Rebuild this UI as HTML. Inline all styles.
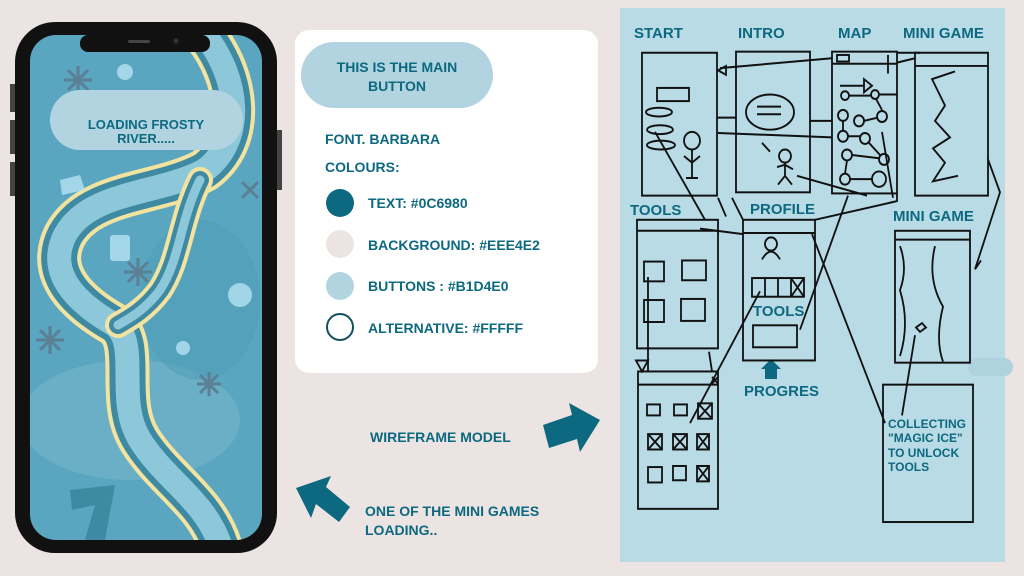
<!DOCTYPE html>
<html><head><meta charset="utf-8"><style>
html,body{margin:0;padding:0;background:#ece4e2;}
svg{display:block}
text{font-family:"Liberation Sans",sans-serif;font-weight:bold;fill:#0c6980}
</style></head><body>
<svg width="1024" height="576" viewBox="0 0 1024 576" xmlns="http://www.w3.org/2000/svg">
<rect width="1024" height="576" fill="#ece4e2"/>
<!-- PHONE -->
<rect x="10" y="84" width="6" height="28" fill="#444"/>
<rect x="10" y="120" width="6" height="34" fill="#444"/>
<rect x="10" y="162" width="6" height="34" fill="#444"/>
<rect x="276" y="130" width="6" height="60" fill="#444"/>
<rect x="15" y="22" width="262" height="531" rx="40" fill="#111"/>
<clipPath id="scr"><rect x="30" y="35" width="232" height="505" rx="26"/></clipPath>
<g clip-path="url(#scr)">
<rect x="30" y="35" width="232" height="505" fill="#5aa6c0"/>
<ellipse cx="130" cy="420" rx="110" ry="60" fill="#7bb8cc" opacity=".5"/>
<ellipse cx="200" cy="300" rx="60" ry="80" fill="#4e9cb8" opacity=".5"/>
<g fill="none" stroke-linecap="round">
<path d="M205 35 C240 80 245 140 205 170 C160 195 90 190 65 235 C45 275 80 305 115 325 C140 345 115 400 140 440 C165 480 205 500 220 545" stroke="#f2e3a0" stroke-width="44"/>
<path d="M205 35 C240 80 245 140 205 170 C160 195 90 190 65 235 C45 275 80 305 115 325 C140 345 115 400 140 440 C165 480 205 500 220 545" stroke="#3f8aa3" stroke-width="36"/>
<path d="M205 35 C240 80 245 140 205 170 C160 195 90 190 65 235 C45 275 80 305 115 325 C140 345 115 400 140 440 C165 480 205 500 220 545" stroke="#8cc8da" stroke-width="24"/>
<path d="M200 180 C180 220 180 260 160 290 C145 310 130 318 118 325" stroke="#f2e3a0" stroke-width="26"/>
<path d="M200 180 C180 220 180 260 160 290 C145 310 130 318 118 325" stroke="#3f8aa3" stroke-width="18"/>
<path d="M200 180 C180 220 180 260 160 290 C145 310 130 318 118 325" stroke="#8cc8da" stroke-width="9"/>
</g>
<path d="M70 490 L115 485 L105 540 L85 540 L95 505 L72 510Z" fill="#3f8aa3"/>
<g fill="#b6e2f2" opacity=".8">
<circle cx="125" cy="72" r="8"/><circle cx="240" cy="295" r="12"/><circle cx="183" cy="348" r="7"/>
<rect x="110" y="235" width="20" height="26" rx="3"/><path d="M60 180 L80 175 L85 190 L62 195Z"/>
</g>
<g stroke="#5b7f93" stroke-width="3" fill="none">
<path d="M68 70 l20 20 M88 70 l-20 20 M78 66 v28 M64 80 h28"/>
<path d="M128 262 l20 20 M148 262 l-20 20 M138 258 v28 M124 272 h28"/>
<path d="M40 330 l20 20 M60 330 l-20 20 M50 326 v28 M36 340 h28"/>
<path d="M200 375 l18 18 M218 375 l-18 18 M209 372 v24 M197 384 h24"/>
<path d="M242 182 l16 16 M258 182 l-16 16"/>
</g>
</g>
<rect x="80" y="35" width="130" height="17" rx="8" fill="#111"/>
<rect x="128" y="40" width="22" height="3" rx="1.5" fill="#444"/>
<circle cx="176" cy="41" r="2.5" fill="#333"/>
<rect x="50" y="90" width="193" height="60" rx="30" fill="#b1d4e0"/>
<text x="146" y="129" font-size="13" text-anchor="middle">LOADING FROSTY</text>
<text x="146" y="144" font-size="13" text-anchor="middle" dy="-1">RIVER.....</text>

<!-- CARD -->
<rect x="295" y="30" width="303" height="343" rx="14" fill="#fff"/>
<rect x="301" y="42" width="192" height="66" rx="33" fill="#b1d4e0"/>
<text x="397" y="72" font-size="14" text-anchor="middle">THIS IS THE MAIN</text>
<text x="397" y="91" font-size="14" text-anchor="middle">BUTTON</text>
<text x="325" y="144" font-size="14">FONT. BARBARA</text>
<text x="325" y="172" font-size="14">COLOURS:</text>
<circle cx="340" cy="203" r="14" fill="#0c6980"/>
<circle cx="340" cy="244" r="14" fill="#ece4e2"/>
<circle cx="340" cy="286" r="14" fill="#b1d4e0"/>
<circle cx="340" cy="327" r="13" fill="#fff" stroke="#12505f" stroke-width="2"/>
<text x="368" y="208" font-size="14">TEXT: #0C6980</text>
<text x="368" y="250" font-size="14">BACKGROUND: #EEE4E2</text>
<text x="368" y="291" font-size="14">BUTTONS : #B1D4E0</text>
<text x="368" y="333" font-size="14">ALTERNATIVE: #FFFFF</text>

<text x="370" y="442" font-size="14">WIREFRAME MODEL</text>
<path d="M543 425 L572 415 L569 403 L600 420 L580 452 L577 439 L549 448Z" fill="#0c6980"/>
<path d="M296 488 L331 476 L326 487 L350 507 L339 522 L316 504 L311 518Z" fill="#0c6980"/>
<text x="365" y="516" font-size="14">ONE OF THE MINI GAMES</text>
<text x="365" y="535" font-size="14">LOADING..</text>

<!-- WIREFRAME PANEL -->
<rect x="620" y="8" width="385" height="554" fill="#b9dbe5"/>
<rect x="968" y="358" width="45" height="18" rx="9" fill="#aed2de"/>
<g font-size="15">
<text x="634" y="38">START</text><text x="738" y="38">INTRO</text><text x="838" y="38">MAP</text><text x="903" y="38">MINI GAME</text>
<text x="630" y="215">TOOLS</text><text x="750" y="214">PROFILE</text><text x="893" y="221">MINI GAME</text>
<text x="753" y="316">TOOLS</text><text x="744" y="396">PROGRES</text>
</g>
<g font-size="12"><text x="888" y="428">COLLECTING</text><text x="888" y="442">"MAGIC ICE"</text><text x="888" y="457">TO UNLOCK</text><text x="888" y="471">TOOLS</text></g>
<path d="M771 367 h6 v12 h-12 v-12 h6Z M771 359 l10 10 h-20Z" fill="#0c6980"/>
<g fill="none" stroke="#111" stroke-width="1.8" transform="scale(1,1.099)">
<!-- start -->
<rect x="642" y="48" width="75" height="130"/>
<rect x="657" y="80" width="32" height="12"/>
<ellipse cx="659" cy="102" rx="13" ry="4"/><ellipse cx="660" cy="118" rx="13" ry="4"/><ellipse cx="661" cy="132" rx="14" ry="4"/>
<circle cx="692" cy="128" r="8"/><path d="M692 136 v26 M684 142 l8 6 l8 -6 M686 162 h12"/>
<!-- intro -->
<rect x="736" y="47" width="74" height="128"/>
<ellipse cx="770" cy="102" rx="24" ry="16"/><path d="M757 97 h24 M757 104 h24"/>
<circle cx="785" cy="142" r="6"/><path d="M785 148 v12 l-7 8 M785 160 l7 8 M777 152 l8 -2 l8 4 M762 130 l8 8"/>
<!-- map -->
<rect x="832" y="47" width="65" height="129"/><path d="M832 58 h65"/>
<rect x="837" y="50" width="12" height="6"/>
<path d="M840 78 h24 M864 72 l8 6 l-8 6Z"/>
<circle cx="845" cy="87" r="4"/><circle cx="875" cy="86" r="4"/><path d="M849 87 h22 M879 86 h18"/>
<circle cx="843" cy="105" r="5"/><circle cx="859" cy="110" r="5"/><circle cx="882" cy="106" r="5"/>
<circle cx="843" cy="124" r="5"/><circle cx="865" cy="126" r="5"/><circle cx="884" cy="145" r="5"/>
<circle cx="847" cy="141" r="5"/><circle cx="845" cy="163" r="5"/><circle cx="879" cy="163" r="7"/>
<path d="M843 110 v9 M848 124 h12 M869 130 l12 12 M852 141 l27 3 M847 146 l-2 12 M850 163 l22 0 M864 110 l14 -3 M882 100 l-6 -10"/>
<path d="M720 62 L832 53 M717 107 L736 107 M810 110 L832 110 M718 121 L832 125"/>
<path d="M718 64 l8 -4 v8Z"/>
<!-- mini game 1 -->
<rect x="915" y="48" width="73" height="130"/><path d="M915 60 h73 M897 57 l18 -4 M897 48 h23"/>
<path d="M955 65 L932 72 L945 96 L935 110 L950 125 L933 135 L945 148 L933 165 L958 160"/>
<path d="M988 145 L1000 175 L975 245"/>
<!-- tools -->
<rect x="637" y="200" width="81" height="117"/><path d="M637 210 h81"/>
<rect x="644" y="238" width="20" height="18"/><rect x="682" y="237" width="24" height="18"/>
<rect x="644" y="273" width="20" height="20"/><rect x="681" y="272" width="24" height="20"/>
<path d="M648 252 V338 M655 120 L705 200 M700 208 L743 213 M732 180 L743 200 M718 180 L726 197"/>
<!-- profile -->
<rect x="743" y="200" width="72" height="128"/><path d="M743 212 h72"/>
<circle cx="771" cy="222" r="6"/><path d="M762 236 q9 -14 18 0"/>
<rect x="752" y="253" width="52" height="17"/><path d="M765 253 v17 M778 253 v17 M791 253 v17 M791 253 l13 17 M804 253 l-13 17"/>
<rect x="753" y="296" width="44" height="20"/>
<path d="M760 265 L690 385 M848 178 L800 300 M812 213 L885 385 M815 200 L897 183 L897 176 M797 160 L867 178"/>
<!-- mini game 2 -->
<rect x="895" y="210" width="75" height="120"/><path d="M895 218 h75"/>
<path d="M900 224 q8 20 0 40 q10 30 0 60 M935 224 q-8 30 8 55 q-8 30 0 50"/>
<path d="M915 305 L902 378 M916 298 l6 -4 l4 4 l-6 4Z"/>
<path d="M888 67 L888 50 M893 180 L882 120 M975 245 l6 -8"/>
<!-- bottom tools -->
<rect x="638" y="338" width="80" height="125"/><path d="M638 350 h80 M712 343 l6 6 M718 343 l-6 6 M712 338 L709 320"/>
<rect x="647" y="368" width="13" height="10"/><rect x="674" y="368" width="13" height="10"/>
<rect x="698" y="367" width="14" height="14"/><path d="M698 367 l14 14 M712 367 l-14 14"/>
<rect x="648" y="395" width="14" height="14"/><path d="M648 395 l14 14 M662 395 l-14 14"/>
<rect x="673" y="395" width="14" height="14"/><path d="M673 395 l14 14 M687 395 l-14 14"/>
<rect x="697" y="395" width="12" height="14"/><path d="M697 395 l12 14 M709 395 l-12 14"/>
<rect x="648" y="425" width="14" height="14"/><rect x="673" y="424" width="13" height="13"/>
<rect x="697" y="424" width="12" height="14"/><path d="M697 424 l12 14 M709 424 l-12 14"/>
<path d="M642 338 l6 -10 h-12Z"/>
<!-- collecting box -->
<rect x="883" y="350" width="90" height="125"/>
</g>
</svg>
</body></html>
